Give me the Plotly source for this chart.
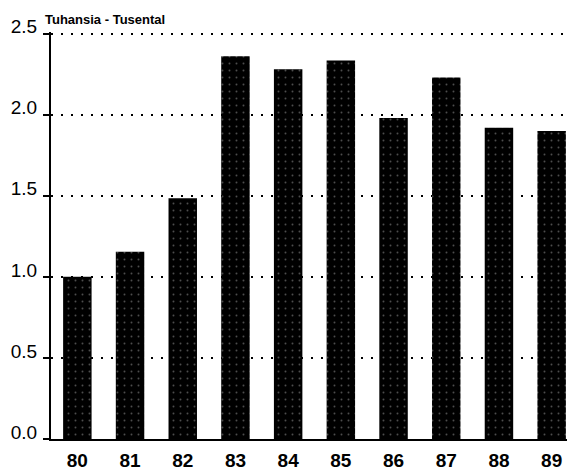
import plotly.graph_objects as go

years = ["80", "81", "82", "83", "84", "85", "86", "87", "88", "89"]
values = [1.00, 1.155, 1.485, 2.36, 2.28, 2.335, 1.98, 2.23, 1.92, 1.90]
y_ticks = [0.0, 0.5, 1.0, 1.5, 2.0, 2.5]
y_ticklabels = ["0.0", "0.5", "1.0", "1.5", "2.0", "2.5"]
unit_label = "Tuhansia - Tusental"

xpos = list(range(len(years)))

fig = go.Figure(go.Bar(
    x=xpos, y=values, width=0.54,
    marker=dict(color="black", line=dict(width=0),
                pattern=dict(shape=".", bgcolor="black", fgcolor="#999999",
                             size=7, solidity=0.06)),
))

fig.update_layout(
    width=575, height=470,
    margin=dict(l=43, r=5, t=24, b=39, autoexpand=False),
    paper_bgcolor="white", plot_bgcolor="white",
    showlegend=False,
    font=dict(family="Liberation Sans, Arial, sans-serif", color="black"),
    xaxis=dict(
        range=[-0.5, 9.5], tickvals=xpos, ticktext=years,
        showgrid=False, zeroline=False, showline=True, linecolor="black", linewidth=2,
        ticks="", tickfont=dict(size=19, family="Liberation Sans, Arial, sans-serif", weight="bold"),
        ticklabelstandoff=3, fixedrange=True,
    ),
    yaxis=dict(
        range=[0, 2.51], tickvals=y_ticks, ticktext=y_ticklabels,
        showgrid=True, gridcolor="black", gridwidth=2, griddash="2px,8px",
        zeroline=False, showline=True, linecolor="black", linewidth=2,
        ticks="outside", ticklen=6, tickwidth=2, tickcolor="black",
        tickfont=dict(size=19), ticklabelshift=-7, ticklabelstandoff=2,
        fixedrange=True,
    ),
    annotations=[dict(
        text="<b>" + unit_label + "</b>", xref="paper", yref="paper",
        x=-0.015, y=1.0, xanchor="left", yanchor="bottom", yshift=3,
        showarrow=False, font=dict(size=13),
    )],
)

fig.write_html("out.html")
